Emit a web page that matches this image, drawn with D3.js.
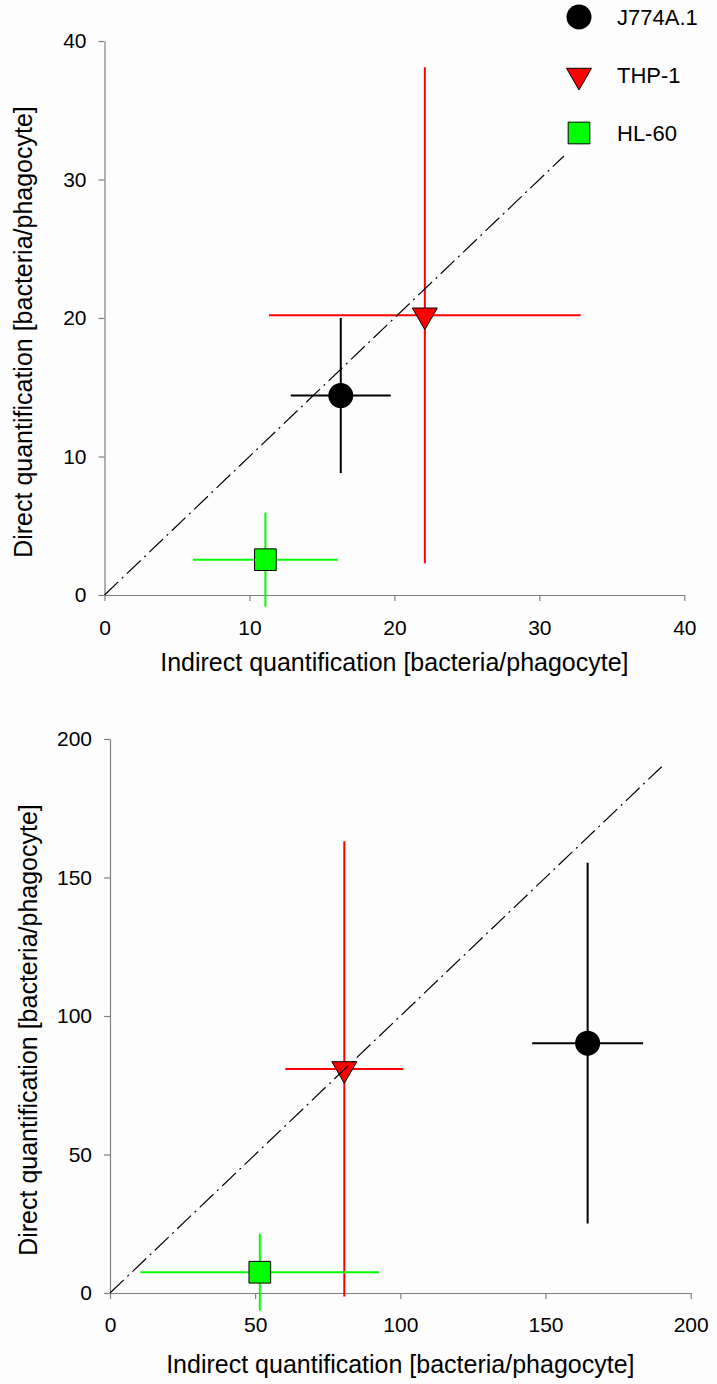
<!DOCTYPE html>
<html>
<head>
<meta charset="utf-8">
<script src="https://cdn.jsdelivr.net/npm/d3@7"></script>
<style>
  body { margin: 0; background: #fdfdfd; }
  svg { display: block; font-family: "Liberation Sans", Arial, sans-serif; }
</style>
</head>
<body>
<svg width="717" height="1384"></svg>
<script>
// cell lines, shared by both panels
var cellLines = ["J774A.1", "THP-1", "HL-60"];
var colors = ["#000000", "#ff0000", "#00ff00"];
var shapes = [d3.symbolCircle, d3.symbolTriangle, d3.symbolSquare];

// top panel
var indirectA    = [16.3, 22.1, 11.1];
var indirectErrA = [3.45, 10.75, 5.0];
var directA      = [14.4, 20.2, 2.55];
var directErrA   = [5.6, 17.9, 3.4];
var ticksA       = [0, 10, 20, 30, 40];
var diagA        = [0, 31.7];

// bottom panel
var indirectB    = [164.5, 80.7, 51.6];
var indirectErrB = [19.1, 20.3, 41.1];
var directB      = [90.2, 80.9, 7.5];
var directErrB   = [65.1, 82.2, 13.9];
var ticksB       = [0, 50, 100, 150, 200];
var diagB        = [0, 190];

var xTitle = "Indirect quantification [bacteria/phagocyte]",
  yTitle = "Direct quantification [bacteria/phagocyte]";

var svg = d3.select("svg");
var axisColor = "#808080";
var symSizes = [490, 270, 470];

function drawPanel(p, indirect, indirectErr, direct, directErr, ticks, diag) {
  var x = d3.scaleLinear().domain([ticks[0], ticks[ticks.length - 1]]).range([p.left, p.right]),
    y = d3.scaleLinear().domain([ticks[0], ticks[ticks.length - 1]]).range([p.bottom, p.top]);
  var g = svg.append("g");

  var gx = g.append("g")
    .attr("transform", "translate(0," + p.bottom + ")")
    .call(d3.axisBottom(x).tickValues(ticks).tickSize(6).tickSizeOuter(0).tickPadding(p.xPad));
  var gy = g.append("g")
    .attr("transform", "translate(" + p.left + ",0)")
    .call(d3.axisLeft(y).tickValues(ticks).tickSize(6).tickSizeOuter(0).tickPadding(12));
  [gx, gy].forEach(function(a) {
    a.select(".domain").attr("stroke", axisColor).attr("stroke-width", 1.2);
    a.selectAll(".tick line").attr("stroke", axisColor).attr("stroke-width", 1.2);
    a.selectAll(".tick text").attr("fill", "#000").style("font-size", "21px").style("font-family", null);
  });

  // axis titles
  g.append("text")
    .attr("x", (p.left + p.right) / 2)
    .attr("y", p.xTitleY)
    .attr("text-anchor", "middle")
    .style("font-size", "25px")
    .text(xTitle);
  g.append("text")
    .attr("transform", "translate(" + p.yTitleX + "," + p.yTitleMid + ") rotate(-90)")
    .attr("text-anchor", "middle")
    .style("font-size", "25px")
    .text(yTitle);

  // error bars
  cellLines.forEach(function(c, i) {
    g.append("line")
      .attr("x1", x(indirect[i] - indirectErr[i])).attr("x2", x(indirect[i] + indirectErr[i]))
      .attr("y1", y(direct[i])).attr("y2", y(direct[i]))
      .attr("stroke", colors[i]).attr("stroke-width", 2);
    g.append("line")
      .attr("x1", x(indirect[i])).attr("x2", x(indirect[i]))
      .attr("y1", y(direct[i] - directErr[i])).attr("y2", y(direct[i] + directErr[i]))
      .attr("stroke", colors[i]).attr("stroke-width", 2);
  });

  // markers
  g.selectAll(".pt")
    .data(cellLines)
    .enter().append("path")
      .attr("class", "pt")
      .attr("d", function(d, i) { return d3.symbol().type(shapes[i]).size(symSizes[i])(); })
      .attr("transform", function(d, i) {
        return "translate(" + x(indirect[i]) + "," + y(direct[i]) + ")" + (i == 1 ? " rotate(180)" : "");
      })
      .attr("fill", function(d, i) { return colors[i]; })
      .attr("stroke", "#000")
      .attr("stroke-width", function(d, i) { return i == 0 ? 0 : 1; });

  // line of identity
  g.append("line")
    .attr("x1", x(diag[0])).attr("y1", y(diag[0]))
    .attr("x2", x(diag[1])).attr("y2", y(diag[1]))
    .attr("stroke", "#000")
    .attr("stroke-width", 1.2)
    .attr("stroke-dasharray", "19,5,2,5");
}

drawPanel({left: 104.5, right: 684.3, top: 41, bottom: 595, xPad: 19, xTitleY: 671, yTitleX: 32, yTitleMid: 332},
  indirectA, indirectErrA, directA, directErrA, ticksA, diagA);
drawPanel({left: 110, right: 690.7, top: 739, bottom: 1293, xPad: 18, xTitleY: 1373, yTitleX: 37, yTitleMid: 1030},
  indirectB, indirectErrB, directB, directErrB, ticksB, diagB);

// legend (top panel only)
var legendY = [17, 75.5, 133];
var legend = svg.append("g");
cellLines.forEach(function(c, i) {
  legend.append("path")
    .attr("d", d3.symbol().type(shapes[i]).size(symSizes[i])())
    .attr("transform", "translate(579," + legendY[i] + ")" + (i == 1 ? " rotate(180)" : ""))
    .attr("fill", colors[i])
    .attr("stroke", "#000")
    .attr("stroke-width", i == 0 ? 0 : 1);
  legend.append("text")
    .attr("x", 617)
    .attr("y", legendY[i])
    .attr("dy", "0.35em")
    .style("font-size", "22px")
    .text(c);
});
</script>
</body>
</html>
